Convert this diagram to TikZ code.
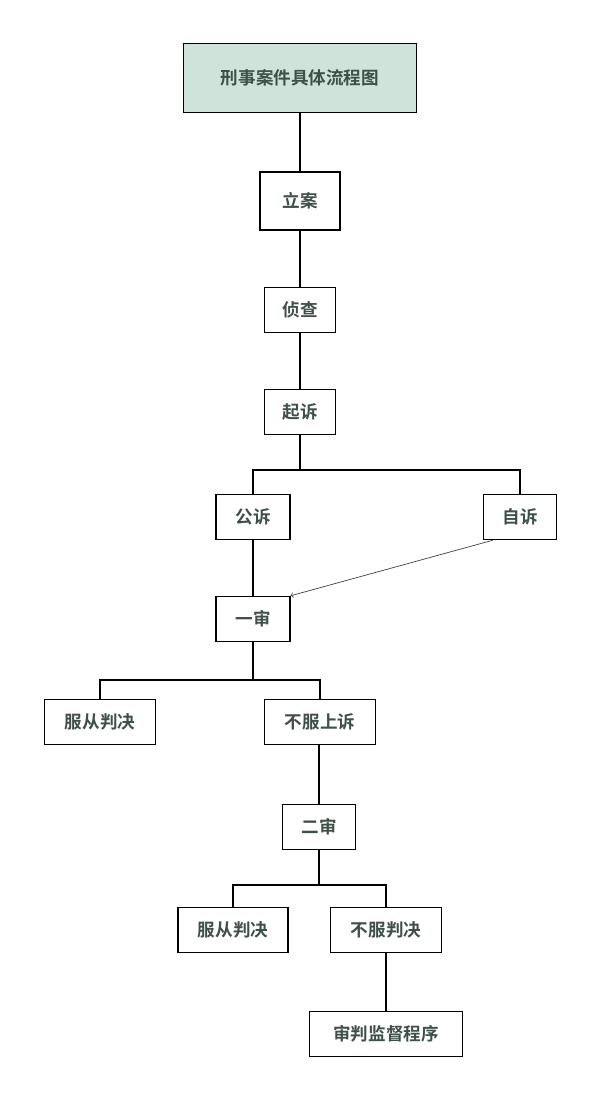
\documentclass[tikz,border=0pt]{standalone}
\usepackage{fontspec}
\setmainfont{Noto Sans CJK SC}[BoldFont={Noto Sans CJK SC Bold}]
\usetikzlibrary{positioning, arrows}
\definecolor{tinta}{RGB}{62, 80, 72}
\definecolor{verdeclaro}{RGB}{207, 227, 219}
\tikzset{
    caja/.style={draw, rectangle, line width=0.9pt, text=tinta, font=\bfseries\fontsize{12.5}{14}\selectfont, minimum height=1.13cm},
    titulo/.style={caja, fill=verdeclaro, minimum width=5.82cm, minimum height=1.72cm},
    conn/.style={-, black, line width=1.4pt},
    flecha/.style={->, gray!50!black, line width=0.5pt},
}
\begin{document}
\begin{tikzpicture}[x=0.025cm, y=-0.025cm]
    \useasboundingbox (0,0) rectangle (600,1100);
    \node [titulo] (t) at (300,78) {刑事案件具体流程图};
    \node [caja, minimum width=2cm, minimum height=1.45cm] (lian) at (300,201) {立案};
    \node [caja, minimum width=1.78cm] (zhencha) at (300,310) {侦查};
    \node [caja, minimum width=1.78cm] (qisu) at (300,412) {起诉};
    \node [caja, minimum width=1.85cm] (gongsu) at (253,517) {公诉};
    \node [caja, minimum width=1.83cm] (zisu) at (520,517) {自诉};
    \node [caja, minimum width=1.85cm] (yishen) at (253,619) {一审};
    \node [caja, minimum width=2.78cm] (fucong1) at (100,722) {服从判决};
    \node [caja, minimum width=2.78cm] (shangsu) at (320,722) {不服上诉};
    \node [caja, minimum width=1.83cm] (ershen) at (319,827) {二审};
    \node [caja, minimum width=2.75cm] (fucong2) at (233,930) {服从判决};
    \node [caja, minimum width=2.78cm] (bufu) at (386,930) {不服判决};
    \node [caja, minimum width=3.83cm] (jiandu) at (386,1034) {审判监督程序};

    \coordinate (b1) at (300,470);
    \coordinate (b2) at (253,680);
    \coordinate (b3) at (319,885);

    \draw[conn] (t) -- (lian);
    \draw[conn] (lian) -- (zhencha);
    \draw[conn] (zhencha) -- (qisu);
    \draw[conn] (qisu) -- (b1);
    \draw[conn] (gongsu.north) |- (b1) -| (zisu.north);
    \draw[conn] (gongsu) -- (yishen);
    \draw[conn] (yishen) -- (b2);
    \draw[conn] (fucong1.north) |- (b2) -| (shangsu.north);
    \draw[conn] (shangsu.south -| ershen) -- (ershen);
    \draw[conn] (ershen) -- (b3);
    \draw[conn] (fucong2.north) |- (b3) -| (bufu.north);
    \draw[conn] (bufu) -- (jiandu);
    \draw[flecha] (zisu.south west) ++(10,0) -- (yishen.north east);
\end{tikzpicture}
\end{document}
